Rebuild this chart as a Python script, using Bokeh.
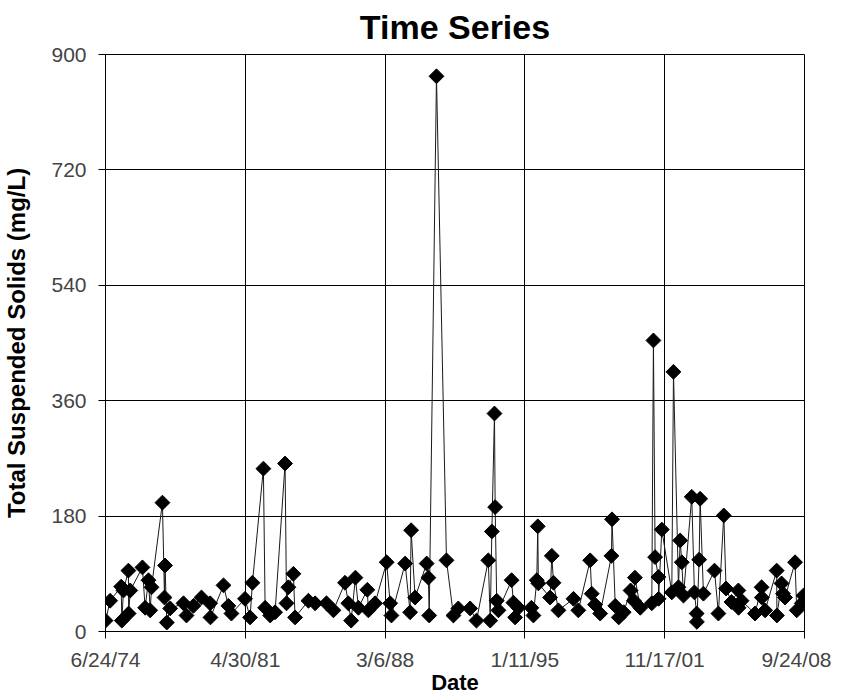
import numpy as np
import pandas as pd
from bokeh.plotting import figure
from bokeh.models import ColumnDataSource, Range1d, FixedTicker, CustomJSTickFormatter
from bokeh.embed import file_html
from bokeh.resources import INLINE

# ---- data ----
sample_dates = [
    "1974-06-25", "1974-09-15", "1975-04-01", "1975-04-12", "1975-05-12", "1975-08-08",
    "1975-08-12", "1975-09-10", "1976-04-15", "1976-06-02", "1976-08-01", "1976-09-01",
    "1976-09-25", "1977-04-08", "1977-05-15", "1977-05-25", "1977-06-25", "1977-08-25",
    "1978-04-20", "1978-06-13", "1978-10-15", "1979-03-08", "1979-08-10", "1979-08-15",
    "1980-04-05", "1980-07-01", "1980-08-25", "1981-04-25", "1981-07-25", "1981-09-05",
    "1982-03-20", "1982-04-20", "1982-07-20", "1982-10-15", "1983-04-12", "1983-05-08",
    "1983-06-10", "1983-09-08", "1983-10-08", "1984-06-03", "1984-10-01", "1985-04-22",
    "1985-08-25", "1986-03-20", "1986-05-18", "1986-07-08", "1986-09-22", "1986-11-15",
    "1987-04-23", "1987-05-12", "1987-09-08", "1988-04-03", "1988-06-05", "1988-06-28",
    "1989-02-28", "1989-05-28", "1989-06-15", "1989-08-25", "1990-03-20", "1990-04-20",
    "1990-05-05", "1990-09-12", "1991-03-10", "1991-07-12", "1991-10-08", "1992-05-06",
    "1992-08-28", "1993-03-28", "1993-05-01", "1993-05-30", "1993-07-16", "1993-07-28",
    "1993-08-25", "1993-09-25", "1994-05-18", "1994-06-20", "1994-07-20", "1994-09-17",
    "1995-05-08", "1995-06-13", "1995-08-12", "1995-08-30", "1995-09-10", "1996-04-07",
    "1996-05-07", "1996-06-07", "1996-09-03", "1997-05-30", "1997-08-25", "1998-03-25",
    "1998-04-22", "1998-06-20", "1998-09-20", "1999-04-10", "1999-04-20", "1999-06-17",
    "1999-08-18", "1999-11-15", "2000-03-17", "2000-05-15", "2000-06-03", "2000-09-07",
    "2001-04-01", "2001-04-30", "2001-05-30", "2001-07-28", "2001-08-01", "2001-09-27",
    "2002-03-25", "2002-04-24", "2002-07-22", "2002-08-22", "2002-09-20", "2002-10-20",
    "2003-03-17", "2003-05-04", "2003-06-13", "2003-06-17", "2003-07-27", "2003-08-14",
    "2003-10-12", "2004-04-27", "2004-07-06", "2004-10-10", "2004-11-20", "2005-02-25",
    "2005-06-28", "2005-07-02", "2005-08-25", "2006-04-22", "2006-08-18", "2006-08-22",
    "2006-10-20", "2007-05-15", "2007-05-19", "2007-08-10", "2007-09-05", "2007-10-12",
    "2008-04-08", "2008-05-08", "2008-08-08", "2008-09-05",
]
tss_values = [
    17, 48, 70, 17, 64, 95,
    28, 64, 100, 37, 80, 33,
    69, 201, 53, 103, 14, 36,
    44, 25, 40, 53, 44, 22,
    72, 40, 28, 51, 22, 76,
    254, 37, 25, 30, 262, 44,
    69, 90, 22, 48, 44, 44,
    33, 76, 44, 17, 84, 37,
    65, 33, 44, 108, 44, 25,
    106, 30, 158, 53, 106, 84,
    25, 866, 111, 25, 36, 36,
    17, 111, 17, 156, 340, 194,
    48, 33, 80, 45, 22, 37,
    37, 25, 80, 164, 75, 53,
    118, 76, 33, 51, 33, 111,
    59, 42, 28, 118, 175, 40,
    22, 30, 64, 48, 84, 37,
    44, 454, 116, 85, 51, 159,
    61, 405, 69, 142, 108, 56,
    210, 61, 28, 15, 112, 207,
    59, 95, 28, 181, 67, 46,
    64, 37, 48, 28, 69, 53,
    33, 95, 25, 75, 59, 53,
    108, 33, 44, 56,
]
x_tick_dates = ["1974-06-24", "1981-04-30", "1988-03-06", "1995-01-11", "2001-11-17", "2008-09-24"]
y_ticks = [0, 180, 360, 540, 720, 900]

title_text = "Time Series"
x_label = "Date"
y_label = "Total Suspended Solids (mg/L)"

# ---- build ----
def to_ms(s):
    return int(pd.Timestamp(s).value // 10**6)

x_ms = [to_ms(d) for d in sample_dates]
tick_ms = [to_ms(d) for d in x_tick_dates]
src = ColumnDataSource(dict(x=x_ms, y=tss_values))

FONT = "Liberation Sans"

p = figure(frame_width=699, frame_height=577, output_backend="svg", toolbar_location=None,
           x_axis_type="datetime",
           x_range=Range1d(tick_ms[0], tick_ms[-1]), y_range=Range1d(y_ticks[0], y_ticks[-1]),
           min_border_left=103, min_border_right=27, min_border_top=54, min_border_bottom=57)

p.title.text = title_text
p.title.align = "center"
p.title.vertical_align = "top"
p.title.text_font = FONT
p.title.text_font_size = "34px"
p.title.text_font_style = "bold"
p.title.text_color = "black"
p.title.standoff = 14

p.line("x", "y", source=src, line_color="#1a1a1a", line_width=1)
p.scatter("x", "y", source=src, marker="square", angle=np.pi / 4, size=10.5,
          fill_color="black", line_color="black")

p.xaxis.ticker = FixedTicker(ticks=tick_ms)
p.xaxis.formatter = CustomJSTickFormatter(code="""
const d = new Date(tick);
return (d.getUTCMonth() + 1) + "/" + d.getUTCDate() + "/" + String(d.getUTCFullYear()).slice(2);
""")
p.yaxis.ticker = FixedTicker(ticks=y_ticks)

for ax in (p.xaxis[0], p.yaxis[0]):
    ax.axis_line_color = "black"
    ax.axis_line_width = 1
    ax.major_tick_line_color = "black"
    ax.major_tick_out = 7
    ax.major_tick_in = 0
    ax.minor_tick_line_color = None
    ax.major_label_text_font = FONT
    ax.major_label_text_font_size = "21px"
    ax.major_label_text_color = "#444444"
    ax.major_label_text_line_height = 1.0
    ax.axis_label_text_line_height = 1.0

p.xaxis.major_label_standoff = 9
p.yaxis.major_label_standoff = 12

p.yaxis.axis_label = y_label
p.yaxis.axis_label_text_font = FONT
p.yaxis.axis_label_text_font_size = "24px"
p.yaxis.axis_label_text_font_style = "bold"
p.yaxis.axis_label_text_color = "black"
p.yaxis.axis_label_standoff = 18

p.xaxis.axis_label = x_label
p.xaxis.axis_label_text_font = FONT
p.xaxis.axis_label_text_font_size = "22px"
p.xaxis.axis_label_text_font_style = "bold"
p.xaxis.axis_label_text_color = "black"
p.xaxis.axis_label_standoff = -4

for g in (p.xgrid[0], p.ygrid[0]):
    g.grid_line_color = "black"
    g.grid_line_width = 1
    g.grid_line_alpha = 1.0

p.outline_line_color = "black"
p.outline_line_width = 1
p.background_fill_color = "white"
p.border_fill_color = "white"

open("out.html", "w").write(file_html(p, INLINE))
